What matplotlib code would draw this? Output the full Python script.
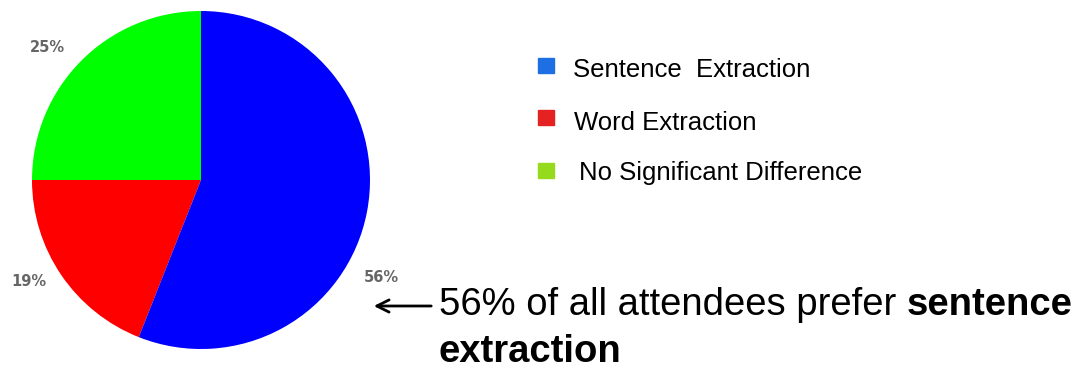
import matplotlib.pyplot as plt
from matplotlib.patches import Rectangle

# survey results
categories = ["Sentence  Extraction", "Word Extraction", "No Significant Difference"]
shares = [56, 19, 25]
pie_colors = ["#0000FF", "#FF0000", "#00FF00"]
legend_colors = ["#1E6FE3", "#E42222", "#96DA1E"]

W, H = 1091, 373
fig = plt.figure(figsize=(W / 100, H / 100), dpi=100)
plt.rcParams['font.family'] = ['Liberation Sans', 'DejaVu Sans']

def px(x, y):
    return x / W, 1 - y / H

# pie axes placed in pixel units
cx, cy, r = 201, 180, 169
ax = fig.add_axes([(cx - r) / W, (H - cy - r) / H, 2 * r / W, 2 * r / H])
# drawn counter-clockwise from the top: green, red, blue
ax.pie(shares[::-1], colors=pie_colors[::-1], startangle=90, counterclock=True,
       radius=1, wedgeprops=dict(linewidth=0))
ax.set_xlim(-1, 1)
ax.set_ylim(-1, 1)
ax.set_aspect('auto')
ax.axis('off')

# percentage labels outside the pie
pct_pos = [(381, 277), (29, 281), (47, 47)]
for val, (x, y) in zip(shares, pct_pos):
    fig.text(*px(x, y), f"{val}%", fontsize=10.5, color="#666666", fontweight='bold',
             family=['DejaVu Sans'], ha='center', va='center')

# legend
box_top = [58, 110, 163]
leg_base = [77, 130, 180]
leg_x = [573, 574, 579]
for name, col, top, base, x in zip(categories, legend_colors, box_top, leg_base, leg_x):
    fig.patches.append(Rectangle(px(538, top + 15), 16 / W, 15 / H, color=col,
                                 transform=fig.transFigure, figure=fig))
    fig.text(*px(x, base), name, fontsize=18.5, ha='left', va='baseline')

# annotation
ax.annotate("", xy=px(371, 306), xytext=px(434, 306), xycoords='figure fraction',
            arrowprops=dict(arrowstyle='->', lw=2, color='black', mutation_scale=22))
t = fig.text(*px(439, 315), "56% of all attendees prefer ", fontsize=27.5,
             ha='left', va='baseline')
fig.canvas.draw()
bb = t.get_window_extent()
fig.text(bb.x1 / W, 1 - 315 / H, "sentence", fontsize=27.5, fontweight='bold',
         ha='left', va='baseline')
fig.text(*px(439, 362), "extraction", fontsize=27.5, fontweight='bold',
         ha='left', va='baseline')

fig.savefig("out.png", dpi=100)
